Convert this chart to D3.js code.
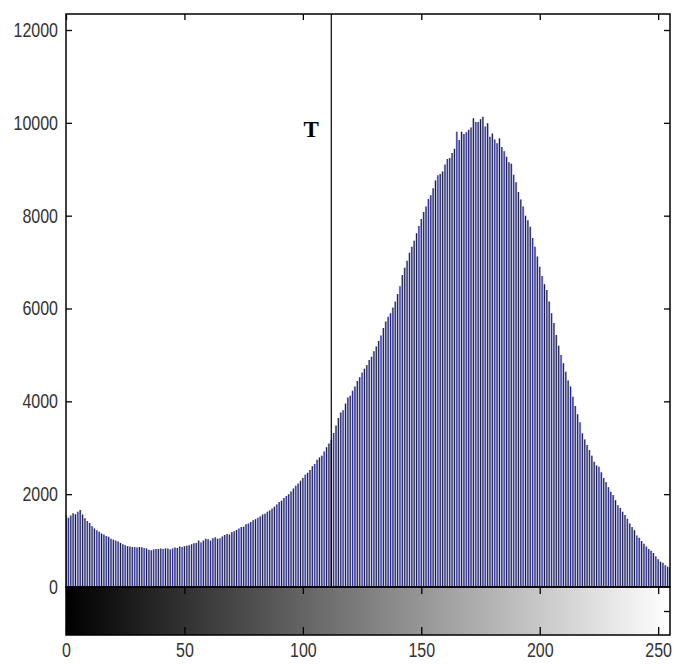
<!DOCTYPE html>
<html>
<head>
<meta charset="utf-8">
<script src="https://cdn.jsdelivr.net/npm/d3@7"></script>
<style>
  body { margin: 0; background: #fff; }
  .tick text { font-family: "Liberation Sans", Arial, sans-serif; font-size: 20px; fill: #333; }
  .tick line { stroke: #000; stroke-width: 1.3; }
  .domain { display: none; }
</style>
</head>
<body>
<div id="chart"></div>
<script>
// histogram counts for grey levels 0..255
const counts = [
  1550, 1490, 1540, 1590, 1570, 1620, 1660, 1560, 1480, 1420,
  1380, 1310, 1260, 1220, 1190, 1150, 1130, 1100, 1080, 1040,
  1020, 1000, 980, 950, 920, 900, 880, 870, 860, 860,
  850, 860, 855, 840, 830, 800, 790, 810, 820, 820,
  830, 820, 830, 830, 810, 830, 850, 840, 870, 860,
  880, 890, 900, 920, 940, 950, 1000, 960, 1000, 1040,
  1030, 1000, 1050, 1070, 1040, 1050, 1090, 1120, 1140, 1130,
  1180, 1200, 1230, 1260, 1290, 1300, 1350, 1370, 1400, 1440,
  1460, 1490, 1520, 1560, 1580, 1620, 1650, 1690, 1730, 1780,
  1830, 1860, 1920, 1960, 2000, 2060, 2120, 2180, 2230, 2290,
  2350, 2420, 2460, 2520, 2600, 2650, 2740, 2790, 2830, 2920,
  3010, 3090, 3170, 3320, 3480, 3640, 3760, 3810, 3950, 4080,
  4120, 4230, 4320, 4440, 4520, 4620, 4700, 4780, 4890, 4960,
  5080, 5180, 5300, 5420, 5580, 5720, 5820, 5900, 6020, 6150,
  6310, 6480, 6720, 6880, 7030, 7200, 7330, 7460, 7620, 7780,
  7930, 8080, 8200, 8360, 8440, 8590, 8760, 8870, 8900, 8950,
  9100, 9220, 9240, 9350, 9440, 9810, 9630, 9810, 9760, 9800,
  9850, 9900, 10100, 10020, 10020, 10080, 10130, 9920, 9990, 9700,
  9770, 9640, 9560, 9665, 9480, 9390, 9270, 9150, 9120, 8880,
  8720, 8510, 8350, 8200, 8000, 7900, 7760, 7520, 7330, 7120,
  6900, 6700, 6520, 6400, 6150, 5900, 5690, 5430, 5200, 5000,
  4820, 4640, 4450, 4320, 4100, 3900, 3720, 3550, 3310, 3180,
  3060, 2950, 2830, 2700, 2620, 2590, 2470, 2350, 2260, 2150,
  2050, 1980, 1870, 1760, 1700, 1620, 1550, 1470, 1370, 1290,
  1220, 1110, 1060, 990, 930, 870, 820, 780, 730, 660,
  600, 545, 520, 470, 437, 420
];
const xTicks = [0, 50, 100, 150, 200, 250];
const yTicks = [0, 2000, 4000, 6000, 8000, 10000, 12000];
const threshold = 112;
const thresholdLabel = "T";

const width = 673;
const height = 664;
const margin = {top: 14, right: 3, bottom: 77, left: 66};
const barBottom = height - margin.bottom;   // 587
const gradBottom = barBottom + 48;          // 635

const svg = d3.select('#chart').append('svg').attr('width', width).attr('height', height);

const x = d3.scaleLinear().domain([0, 255]).range([margin.left, width - margin.right]);
const y = d3.scaleLinear().domain([0, 12345]).range([barBottom, margin.top]);
const step = x(1) - x(0);

// clip for the bars
svg.append('clipPath').attr('id', 'plotClip')
  .append('rect')
  .attr('x', margin.left).attr('y', margin.top)
  .attr('width', width - margin.right - margin.left)
  .attr('height', barBottom - margin.top);

const bars = svg.append('g').attr('clip-path', 'url(#plotClip)');

bars.selectAll('rect.bg').data(counts).enter().append('rect')
  .attr('class', 'bg')
  .attr('x', (d, i) => x(i) - step / 2)
  .attr('y', d => y(d))
  .attr('width', step)
  .attr('height', d => barBottom - y(d))
  .attr('fill', '#b9bcdc');

bars.selectAll('line.stem').data(counts).enter().append('line')
  .attr('class', 'stem')
  .attr('x1', (d, i) => x(i)).attr('x2', (d, i) => x(i))
  .attr('y1', barBottom).attr('y2', d => y(d))
  .attr('stroke', (d, i) => i % 4 === 1 ? '#1f1fb8' : '#1a1a48')
  .attr('stroke-width', 1.05);

// threshold line and label
svg.append('line')
  .attr('x1', x(threshold)).attr('x2', x(threshold))
  .attr('y1', margin.top).attr('y2', barBottom)
  .attr('stroke', '#000').attr('stroke-width', 1.2);

svg.append('text')
  .attr('x', x(threshold) - 20).attr('y', y(9700))
  .attr('text-anchor', 'middle')
  .attr('font-family', '"Liberation Serif", "DejaVu Serif", serif')
  .attr('font-weight', 'bold')
  .attr('font-size', 23)
  .text(thresholdLabel);

// grey gradient strip
const grad = svg.append('defs').append('linearGradient').attr('id', 'greyRamp');
grad.append('stop').attr('offset', '0%').attr('stop-color', '#000');
grad.append('stop').attr('offset', '100%').attr('stop-color', '#fff');

svg.append('rect')
  .attr('x', margin.left).attr('y', barBottom)
  .attr('width', width - margin.right - margin.left)
  .attr('height', gradBottom - barBottom)
  .attr('fill', 'url(#greyRamp)');

// axes
const narrow = sel => sel.selectAll('.tick text')
  .attr('transform', 'scale(0.8,1)')
  .attr('x', function () { return +d3.select(this).attr('x') / 0.8; });

svg.append('g').attr('transform', `translate(${margin.left},0)`)
  .call(d3.axisLeft(y).tickValues(yTicks).tickSize(-6).tickPadding(8).tickFormat(d3.format('d')))
  .call(narrow);

svg.append('g').attr('transform', `translate(${width - margin.right},0)`)
  .call(d3.axisRight(y).tickValues(yTicks.slice(1)).tickSize(-6).tickFormat(''));

svg.append('g').attr('transform', `translate(0,${margin.top})`)
  .call(d3.axisTop(x).tickValues(xTicks).tickSize(-6).tickFormat(''));

svg.append('g').attr('transform', `translate(0,${barBottom})`)
  .call(d3.axisTop(x).tickValues(xTicks).tickSize(-7).tickFormat(''));

svg.append('g').attr('transform', `translate(0,${gradBottom})`)
  .call(d3.axisBottom(x).tickValues(xTicks).tickSize(-8).tickPadding(8))
  .call(narrow);

const yGrad = d3.scaleLinear().domain([0, 1]).range([gradBottom, barBottom]);
svg.append('g').attr('transform', `translate(${width - margin.right},0)`)
  .call(d3.axisRight(yGrad).tickValues([0.5]).tickSize(-6).tickFormat(''));
svg.append('g').attr('transform', `translate(${margin.left},0)`)
  .call(d3.axisLeft(yGrad).tickValues([0.5]).tickSize(-6).tickFormat(''));

// frames
svg.append('rect')
  .attr('x', margin.left).attr('y', margin.top)
  .attr('width', width - margin.right - margin.left)
  .attr('height', barBottom - margin.top)
  .attr('fill', 'none').attr('stroke', '#000').attr('stroke-width', 1.5);

svg.append('rect')
  .attr('x', margin.left).attr('y', barBottom)
  .attr('width', width - margin.right - margin.left)
  .attr('height', gradBottom - barBottom)
  .attr('fill', 'none').attr('stroke', '#000').attr('stroke-width', 1.5);
</script>
</body>
</html>
